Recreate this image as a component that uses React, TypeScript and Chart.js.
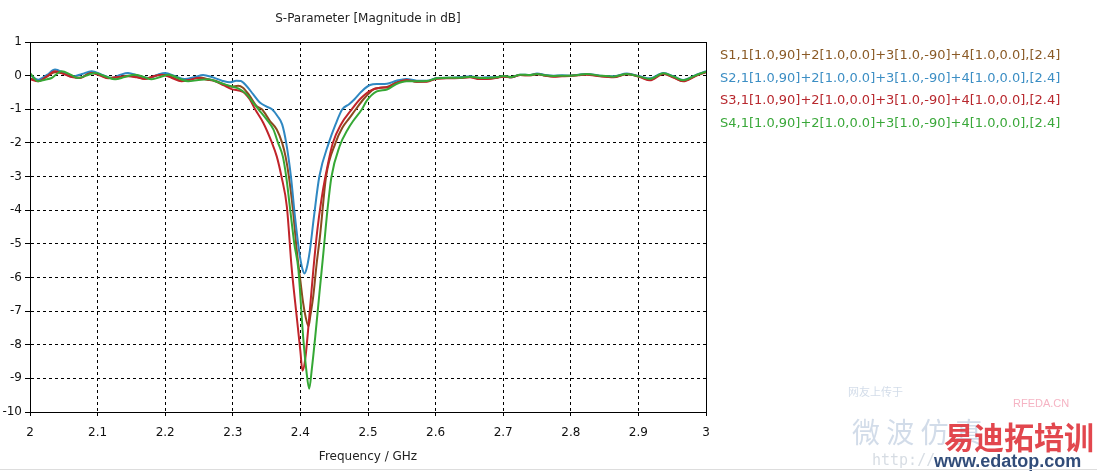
import React, { useEffect, useRef } from 'react';
import { Chart, registerables } from 'chart.js';

Chart.register(...registerables);

const chartTitle = 'S-Parameter [Magnitude in dB]';
const xAxisTitle = 'Frequency / GHz';
const seriesNames = [
  'S1,1[1.0,90]+2[1.0,0.0]+3[1.0,-90]+4[1.0,0.0],[2.4]',
  'S2,1[1.0,90]+2[1.0,0.0]+3[1.0,-90]+4[1.0,0.0],[2.4]',
  'S3,1[1.0,90]+2[1.0,0.0]+3[1.0,-90]+4[1.0,0.0],[2.4]',
  'S4,1[1.0,90]+2[1.0,0.0]+3[1.0,-90]+4[1.0,0.0],[2.4]',
];
const xTickLabels = ['2', '2.1', '2.2', '2.3', '2.4', '2.5', '2.6', '2.7', '2.8', '2.9', '3'];

// S1,1 (brown)
const s1Freq = [2.000, 2.012, 2.025, 2.037, 2.050, 2.062, 2.074, 2.091, 2.104, 2.116, 2.130, 2.145, 2.158, 2.170, 2.183, 2.195, 2.210, 2.224, 2.237, 2.249, 2.262, 2.274, 2.286, 2.298, 2.308, 2.315, 2.325, 2.335, 2.343, 2.355, 2.365, 2.373, 2.378, 2.383, 2.389, 2.395, 2.400, 2.404, 2.408, 2.412, 2.415, 2.419, 2.424, 2.429, 2.438, 2.452, 2.462, 2.473, 2.482, 2.493, 2.508, 2.518, 2.528, 2.542, 2.557, 2.572, 2.587, 2.602, 2.620, 2.636, 2.651, 2.665, 2.676, 2.690, 2.700, 2.712, 2.725, 2.740, 2.750, 2.762, 2.774, 2.787, 2.799, 2.811, 2.823, 2.843, 2.863, 2.883, 2.902, 2.917, 2.937, 2.952, 2.966, 2.986, 3.000];
const s1Mag = [-0.08, -0.15, -0.03, 0.10, 0.06, -0.03, -0.06, 0.10, 0.02, -0.07, -0.05, 0.00, -0.04, -0.09, -0.03, 0.05, -0.05, -0.15, -0.10, -0.05, -0.10, -0.15, -0.25, -0.33, -0.30, -0.36, -0.60, -0.90, -1.00, -1.35, -1.60, -2.00, -2.40, -3.00, -4.00, -5.27, -6.10, -6.75, -7.20, -7.45, -7.10, -6.56, -5.60, -4.77, -3.00, -2.00, -1.55, -1.25, -1.00, -0.71, -0.41, -0.36, -0.34, -0.20, -0.12, -0.18, -0.17, -0.08, -0.07, -0.06, -0.04, -0.09, -0.09, -0.06, -0.02, -0.05, 0.02, 0.01, 0.05, 0.01, -0.02, -0.01, 0.00, 0.02, 0.04, -0.01, -0.04, 0.05, -0.03, -0.12, 0.06, -0.05, -0.16, 0.01, 0.11];

// S2,1 (blue)
const s2Freq = [2.000, 2.012, 2.025, 2.037, 2.050, 2.062, 2.077, 2.091, 2.106, 2.121, 2.133, 2.145, 2.160, 2.175, 2.188, 2.200, 2.215, 2.229, 2.244, 2.256, 2.270, 2.284, 2.296, 2.305, 2.312, 2.320, 2.330, 2.340, 2.350, 2.358, 2.366, 2.373, 2.379, 2.386, 2.392, 2.398, 2.403, 2.406, 2.409, 2.414, 2.420, 2.428, 2.442, 2.452, 2.462, 2.472, 2.480, 2.490, 2.503, 2.515, 2.528, 2.542, 2.557, 2.572, 2.587, 2.602, 2.620, 2.636, 2.651, 2.665, 2.676, 2.690, 2.700, 2.712, 2.725, 2.740, 2.750, 2.762, 2.774, 2.787, 2.799, 2.811, 2.823, 2.843, 2.863, 2.883, 2.902, 2.917, 2.937, 2.952, 2.966, 2.986, 3.000];
const s2Mag = [0.03, -0.12, 0.02, 0.18, 0.08, -0.03, 0.05, 0.13, 0.03, -0.07, 0.02, 0.08, 0.00, -0.07, 0.02, 0.08, -0.02, -0.10, -0.04, 0.02, -0.05, -0.15, -0.20, -0.15, -0.16, -0.30, -0.55, -0.80, -0.92, -1.00, -1.20, -1.45, -2.00, -3.00, -4.20, -5.20, -5.75, -5.88, -5.75, -5.20, -4.20, -3.00, -2.00, -1.45, -1.00, -0.85, -0.70, -0.48, -0.28, -0.25, -0.24, -0.15, -0.10, -0.15, -0.15, -0.07, -0.06, -0.05, -0.02, -0.06, -0.05, -0.05, -0.02, -0.05, 0.03, 0.02, 0.06, 0.02, 0.00, 0.01, 0.00, 0.03, 0.05, 0.00, -0.02, 0.06, -0.02, -0.08, 0.08, -0.02, -0.13, 0.03, 0.13];

// S3,1 (red)
const s3Freq = [2.000, 2.012, 2.025, 2.037, 2.050, 2.062, 2.074, 2.091, 2.104, 2.116, 2.130, 2.145, 2.158, 2.170, 2.183, 2.195, 2.210, 2.224, 2.237, 2.249, 2.262, 2.274, 2.286, 2.298, 2.315, 2.325, 2.333, 2.345, 2.357, 2.365, 2.372, 2.380, 2.387, 2.395, 2.400, 2.403, 2.407, 2.413, 2.419, 2.425, 2.431, 2.437, 2.448, 2.460, 2.476, 2.488, 2.503, 2.518, 2.528, 2.542, 2.557, 2.572, 2.587, 2.602, 2.620, 2.636, 2.651, 2.665, 2.676, 2.690, 2.700, 2.712, 2.725, 2.740, 2.750, 2.762, 2.774, 2.787, 2.799, 2.811, 2.823, 2.843, 2.863, 2.883, 2.902, 2.917, 2.937, 2.952, 2.966, 2.986, 3.000];
const s3Mag = [-0.11, -0.17, -0.02, 0.13, 0.05, -0.04, -0.07, 0.08, 0.00, -0.08, -0.04, -0.02, -0.05, -0.10, -0.02, 0.03, -0.07, -0.17, -0.12, -0.07, -0.12, -0.17, -0.28, -0.40, -0.48, -0.70, -1.00, -1.40, -1.95, -2.40, -3.00, -3.90, -5.70, -7.25, -8.20, -8.77, -8.45, -7.20, -5.80, -4.60, -3.70, -3.00, -2.00, -1.45, -1.00, -0.70, -0.45, -0.36, -0.35, -0.22, -0.13, -0.18, -0.18, -0.09, -0.08, -0.07, -0.05, -0.10, -0.10, -0.07, -0.03, -0.05, 0.02, 0.01, 0.04, 0.00, -0.03, -0.02, -0.01, 0.01, 0.03, -0.02, -0.05, 0.04, -0.04, -0.14, 0.05, -0.06, -0.17, 0.00, 0.10];

// S4,1 (green)
const s4Freq = [2.000, 2.012, 2.022, 2.032, 2.047, 2.060, 2.071, 2.083, 2.096, 2.111, 2.126, 2.140, 2.155, 2.168, 2.180, 2.193, 2.205, 2.220, 2.234, 2.249, 2.264, 2.276, 2.288, 2.300, 2.308, 2.320, 2.330, 2.338, 2.350, 2.360, 2.367, 2.374, 2.379, 2.385, 2.391, 2.397, 2.404, 2.409, 2.413, 2.417, 2.422, 2.428, 2.434, 2.440, 2.446, 2.458, 2.470, 2.478, 2.491, 2.498, 2.513, 2.528, 2.542, 2.557, 2.572, 2.587, 2.602, 2.620, 2.636, 2.651, 2.665, 2.676, 2.690, 2.700, 2.712, 2.725, 2.740, 2.750, 2.762, 2.774, 2.787, 2.799, 2.811, 2.823, 2.843, 2.863, 2.883, 2.902, 2.917, 2.937, 2.952, 2.966, 2.986, 3.000];
const s4Mag = [0.08, -0.17, -0.12, -0.07, 0.13, 0.03, -0.07, 0.00, 0.08, -0.02, -0.11, -0.04, 0.03, -0.04, -0.11, -0.04, 0.03, -0.08, -0.17, -0.13, -0.11, -0.18, -0.26, -0.33, -0.38, -0.55, -0.80, -1.00, -1.30, -1.60, -2.00, -2.40, -3.00, -4.00, -5.00, -5.76, -7.75, -8.80, -9.31, -8.70, -7.75, -6.50, -5.27, -4.00, -3.00, -2.10, -1.60, -1.35, -1.00, -0.75, -0.47, -0.41, -0.25, -0.17, -0.17, -0.16, -0.08, -0.06, -0.06, -0.03, -0.07, -0.07, -0.05, -0.01, -0.04, 0.03, 0.02, 0.05, 0.01, -0.01, 0.00, 0.00, 0.02, 0.05, 0.00, -0.03, 0.05, -0.03, -0.10, 0.07, -0.03, -0.14, 0.02, 0.12];

const lineColors = ['#8B4A1E', '#2F88C2', '#C0242A', '#35A835'];
const textColors = ['#8A5A26', '#3C8EC4', '#B8282E', '#3AA83A'];

const decorPlugin = {
  id: 'decor',
  afterDraw(chart: any) {
    const { ctx, chartArea: a } = chart;
    ctx.save();
    // frame
    ctx.strokeStyle = '#000';
    ctx.lineWidth = 1;
    ctx.setLineDash([]);
    ctx.strokeRect(Math.round(a.left) + 0.5, Math.round(a.top) + 0.5, Math.round(a.right - a.left), Math.round(a.bottom - a.top));

    // title
    ctx.fillStyle = '#222';
    ctx.font = '12px "DejaVu Sans"';
    ctx.textAlign = 'center';
    ctx.textBaseline = 'middle';
    ctx.fillText(chartTitle, (a.left + a.right) / 2, 19, 204);
    // axis title
    ctx.fillText(xAxisTitle, (a.left + a.right) / 2, 457, 114);

    // legend
    ctx.textAlign = 'left';
    ctx.font = '13px "DejaVu Sans"';
    seriesNames.forEach((name, i) => {
      ctx.fillStyle = textColors[i];
      ctx.fillText(name, 720, 55.5 + i * 22.7, 354);
    });

    // watermark
    ctx.globalAlpha = 0.35;
    ctx.fillStyle = '#7f9cc0';
    ctx.font = '11px "Noto Sans CJK SC"';
    ctx.fillText('网友上传于', 848, 392);
    ctx.font = '28px "Noto Sans CJK SC"';
    ctx.fillText('微 波 仿 真', 852, 432, 180);
    ctx.font = '15px "DejaVu Sans Mono"';
    ctx.fillStyle = '#8a9ab0';
    ctx.fillText('http://', 872, 461);
    ctx.globalAlpha = 0.8;
    ctx.fillStyle = '#f2a0b4';
    ctx.font = '11px "Liberation Sans"';
    ctx.fillText('RFEDA.CN', 1013, 404);
    ctx.globalAlpha = 0.92;
    ctx.fillStyle = '#e0373f';
    ctx.font = 'bold 31px "Noto Sans CJK SC"';
    ctx.fillText('易迪拓培训', 944, 437, 150);
    ctx.fillStyle = '#1f3d6e';
    ctx.font = 'bold 18px "Liberation Sans"';
    ctx.fillText('www.edatop.com', 934, 462, 156);
    ctx.globalAlpha = 1;
    ctx.fillStyle = '#dddddd';
    ctx.fillRect(0, 469, 1097, 1);
    ctx.restore();
  },
};

export default function App() {
  const canvasRef = useRef<HTMLCanvasElement | null>(null);

  useEffect(() => {
    const canvas = canvasRef.current;
    if (!canvas) return;
    const freqs = [s1Freq, s2Freq, s3Freq, s4Freq];
    const mags = [s1Mag, s2Mag, s3Mag, s4Mag];
    const orders = [4, 3, 2, 1];
    const datasets = seriesNames.map((name, i) => ({
      label: name,
      data: freqs[i].map((f, j) => ({ x: f, y: mags[i][j] })),
      borderColor: lineColors[i],
      backgroundColor: lineColors[i],
      borderWidth: 2,
      pointRadius: 0,
      fill: false,
      cubicInterpolationMode: 'monotone' as const,
      order: orders[i],
    }));

    const chart = new Chart(canvas, {
      type: 'line',
      data: { datasets },
      options: {
        animation: false,
        responsive: false,
        maintainAspectRatio: false,
        layout: { padding: { top: 42, right: 391, left: 0, bottom: 0 } },
        plugins: {
          legend: { display: false },
          title: { display: false },
          tooltip: { enabled: false },
        },
        scales: {
          x: {
            type: 'linear',
            min: 2,
            max: 3,
            afterFit: (s: any) => { s.height = 60; },
            ticks: {
              stepSize: 0.1,
              padding: 10,
              color: '#111',
              font: { family: 'DejaVu Sans', size: 12 },
              maxRotation: 0,
              callback: (_v: any, i: number) => xTickLabels[i],
            },
            grid: {
              color: '#000',
              lineWidth: 1,
              tickLength: 4,
              tickColor: '#000',
              tickBorderDash: [],
            },
            border: { display: true, color: '#000', width: 1, dash: [3, 3] },
          },
          y: {
            type: 'linear',
            min: -10,
            max: 1,
            afterFit: (s: any) => { s.width = 30; },
            ticks: {
              stepSize: 1,
              padding: 3,
              color: '#111',
              font: { family: 'DejaVu Sans', size: 12 },
              callback: (v: any) => String(Math.round(Number(v))),
            },
            grid: {
              color: '#000',
              lineWidth: 1,
              tickLength: 5,
              tickColor: '#000',
              tickBorderDash: [],
            },
            border: { display: true, color: '#000', width: 1, dash: [3, 3] },
          },
        },
      },
      plugins: [decorPlugin],
    });
    return () => chart.destroy();
  }, []);

  return (
    <div style={{ position: 'absolute', left: 0, top: 0, width: 1097, height: 472, background: '#fff' }}>
      <canvas ref={canvasRef} width={1097} height={472} style={{ display: 'block' }} />
    </div>
  );
}
